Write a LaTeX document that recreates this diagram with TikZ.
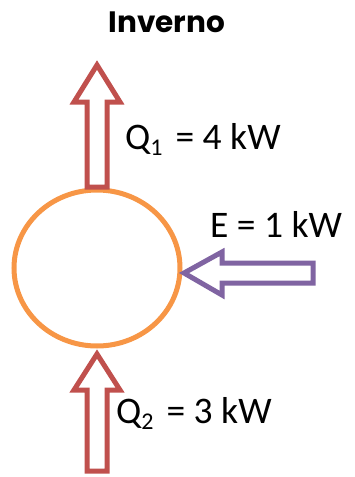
\documentclass[tikz,border=0pt]{standalone}
\usepackage{fontspec}
\setmainfont{Carlito}
\newfontfamily\titlefont{Poppins}
\definecolor{redA}{HTML}{C0504D}
\definecolor{purpA}{HTML}{8064A2}
\definecolor{orA}{HTML}{F79646}
\newcommand\lblfont{\fontsize{37.5}{39}\selectfont}
\newcommand\sbs[1]{\raisebox{-0.17em}{\fontsize{24}{24}\selectfont #1}}
\tikzset{
  blockarrow/.style={line width=5pt, line join=miter, fill=white},
  lbl/.style={font=\lblfont, inner sep=0pt, anchor=base west}
}
\begin{document}
\begin{tikzpicture}[x=1pt,y=-1pt]
\useasboundingbox (0,0) rectangle (354,477);
\node[font=\titlefont\bfseries\fontsize{29.5}{30}\selectfont, inner sep=0pt, anchor=base] (title) at (167,32) {Inverno};
\draw[orA, line width=5pt] (97,268) ellipse [x radius=83, y radius=78];
\node[inner sep=0pt] (c) at (97,268) {};
% top arrow
\draw[redA, blockarrow] (97,65) -- (120,102) -- (107,102) -- (107,187) -- (87,187) -- (87,102) -- (74,102) -- cycle;
% bottom arrow
\draw[redA, blockarrow] (97,354) -- (120,390) -- (107,390) -- (107,471) -- (87,471) -- (87,390) -- (74,390) -- cycle;
% purple arrow
\draw[purpA, blockarrow] (184,273) -- (222,252) -- (222,263) -- (313,263) -- (313,283) -- (222,283) -- (222,295) -- cycle;
\node[lbl] (q1) at (125,149) {Q\sbs{1}\hspace{0.12em} = 4 kW};
\node[lbl] (e) at (210,237) {E = 1 kW};
\node[lbl] (q2) at (116,423) {Q\sbs{2}\hspace{0.12em} = 3 kW};
\end{tikzpicture}
\end{document}
